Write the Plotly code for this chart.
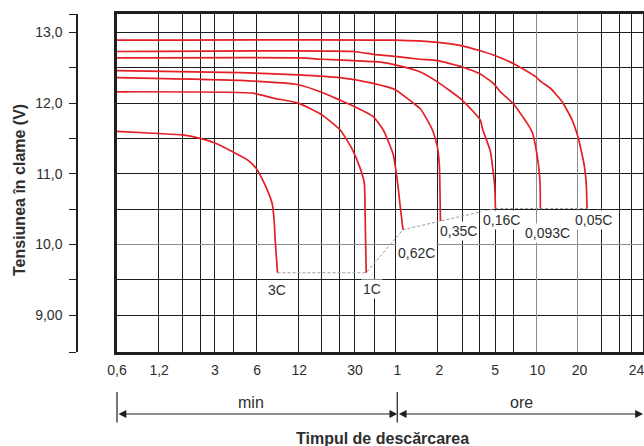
import math
import plotly.graph_objects as go

# ---------------- data (time in minutes, terminal voltage in V) ----------------
rate_labels = ["3C", "1C", "0,62C", "0,35C", "0,16C", "0,093C", "0,05C"]

t_3c = [0.6, 1.18, 1.75, 2.35, 2.96, 4.04, 5.09, 5.90, 6.84, 7.68, 7.93, 8.07, 8.38]
v_3c = [11.60, 11.57, 11.55, 11.50, 11.44, 11.31, 11.20, 11.08, 10.84, 10.58, 10.35, 10.07, 9.60]

t_1c = [0.6, 5.62, 7.81, 11.8, 17.5, 23.5, 28.6, 32.6, 34.9, 35.4, 36.0]
v_1c = [12.16, 12.14, 12.07, 12.00, 11.83, 11.62, 11.35, 11.08, 10.87, 10.40, 9.60]

t_062 = [0.6, 4.54, 11.8, 17.5, 23.5, 29.1, 40.4, 47.7, 56.2, 60.0, 63.0, 65.9]
v_062 = [12.36, 12.32, 12.26, 12.15, 12.04, 11.96, 11.81, 11.62, 11.27, 10.91, 10.54, 10.21]

t_035 = [0.6, 4.54, 11.8, 23.5, 40.4, 58.1, 78.1, 87.6, 98.3, 107, 116, 120, 121, 122]
v_035 = [12.46, 12.43, 12.40, 12.36, 12.28, 12.19, 12.00, 11.92, 11.76, 11.62, 11.38, 11.10, 10.77, 10.33]

t_016 = [0.6, 11.8, 17.5, 29.1, 45.4, 58.1, 87.6, 116, 175, 235, 243, 277, 291, 298, 301]
v_016 = [12.64, 12.64, 12.62, 12.60, 12.58, 12.54, 12.44, 12.30, 12.04, 11.76, 11.64, 11.32, 11.01, 10.80, 10.51]

t_0093 = [0.6, 29.1, 40.4, 58.1, 87.6, 116, 175, 235, 291, 326, 404, 509, 553, 581, 613, 627, 630]
v_0093 = [12.73, 12.73, 12.69, 12.66, 12.62, 12.60, 12.51, 12.41, 12.28, 12.16, 11.99, 11.71, 11.58, 11.40, 11.10, 10.85, 10.51]

t_005 = [0.6, 58.1, 116, 175, 235, 291, 404, 587, 630, 743, 901, 1062, 1165, 1217, 1300, 1340, 1355]
v_005 = [12.89, 12.89, 12.86, 12.81, 12.74, 12.68, 12.56, 12.37, 12.31, 12.21, 12.02, 11.76, 11.53, 11.38, 11.10, 10.85, 10.51]

series_t = [t_3c, t_1c, t_062, t_035, t_016, t_0093, t_005]
series_v = [v_3c, v_1c, v_062, v_035, v_016, v_0093, v_005]

# axis ticks / labels
x_tick_vals = [0.6, 1.2, 3, 6, 12, 30, 60, 120, 300, 600, 1200, 3060]
x_tick_text = ["0,6", "1,2", "3", "6", "12", "30", "1", "2", "5", "10", "20", "24"]
x_grid_black = [1.18, 1.76, 2.37, 2.97, 4.08, 5.95, 11.9, 17.2, 23.1, 29.5, 41.0, 58.5,
                117, 175, 233, 300, 403, 1711, 2304, 2830]
x_grid_gray = [588, 1155]
x_limits = [0.6, 3402]

y_tick_vals = [8.48, 9.0, 9.5, 10.0, 10.5, 11.0, 11.5, 12.0, 12.5, 13.0, 13.26]
y_tick_text = ["", "9,00", "", "10,0", "", "11,0", "", "12,0", "", "13,0", ""]
y_grid_black = [9.0, 9.5, 10.5, 11.0, 11.5, 12.0, 12.5, 13.0]
y_grid_gray = [10.0]
y_limits = [8.48, 13.26]

# ---------------- styling / layout ----------------
W, H = 644, 446
ML, MR, MT, MB = 77, 1, 14, 94
PW, PH = W - ML - MR, H - MT - MB
PLOT_LEFT_PX = 117


def px_x(px):
    return (px - ML) / PW


def px_y(py):
    return (H - MB - py) / PH


RED = "#e41f26"
INK = "#1e1e1e"
TXT = "#2e2e2e"
FONT = "Liberation Sans"
X_RANGE = [math.log10(x_limits[0]), math.log10(x_limits[1])]
DOM = [px_x(PLOT_LEFT_PX), 1]

# label offsets (pixels) relative to the curve end points
label_shift = [(0, -17), (6, -16), (14, -23), (18, -10), (6, -12), (7, -25), (7, -12)]

fig = go.Figure()

# empty traces so that the overlay grid axes are created
fig.add_trace(go.Scatter(x=[], y=[], xaxis="x2", yaxis="y2", hoverinfo="skip", showlegend=False))
fig.add_trace(go.Scatter(x=[], y=[], xaxis="x3", yaxis="y3", hoverinfo="skip", showlegend=False))

end_t = [t[-1] for t in series_t]
end_v = [v[-1] for v in series_v]
fig.add_trace(go.Scatter(x=end_t, y=end_v, mode="lines",
                         line=dict(color="#9a9a9a", width=1, dash="3px,2px"),
                         hoverinfo="skip", showlegend=False))

for t, v in zip(series_t, series_v):
    fig.add_trace(go.Scatter(x=t, y=v, mode="lines",
                             line=dict(color=RED, width=1.7, shape="spline", smoothing=0.5),
                             hoverinfo="skip", showlegend=False))

for lab, t, v, (dx, dy) in zip(rate_labels, end_t, end_v, label_shift):
    fig.add_annotation(x=math.log10(t), y=v, xref="x", yref="y", text=lab,
                       showarrow=False, xshift=dx, yshift=dy,
                       xanchor="center", yanchor="middle",
                       font=dict(size=14, color=TXT, family=FONT),
                       bgcolor="white", borderpad=1)

# unit labels and arrows under the axis
for txt, cx in [("min", 251), ("ore", 521)]:
    fig.add_annotation(x=px_x(cx), y=px_y(402), xref="paper", yref="paper", text=txt,
                       xanchor="center", yanchor="middle", showarrow=False,
                       font=dict(size=16, color=TXT, family=FONT))

arrow_y = px_y(414)
for a, b in [(x_limits[0], 60), (60, x_limits[1])]:
    fig.add_annotation(x=math.log10(b), y=arrow_y, xref="x", yref="paper",
                       ax=math.log10(a), ay=0, axref="x", ayref="pixel",
                       text="", showarrow=True, arrowside="end+start",
                       arrowhead=2, arrowsize=1.3, arrowwidth=1.2, arrowcolor=INK,
                       standoff=0, startstandoff=0)
for xb in [x_limits[0], 60]:
    fig.add_annotation(x=math.log10(xb), y=px_y(392), xref="x", yref="paper",
                       ax=0, ay=32, text="", showarrow=True, arrowhead=0,
                       arrowwidth=1.2, arrowcolor=INK)

# titles
fig.add_annotation(x=px_x(19), y=px_y(190), xref="paper", yref="paper",
                   text="Tensiunea în clame (V)", textangle=-90, showarrow=False,
                   xanchor="center", yanchor="middle",
                   font=dict(size=16, color=TXT, family=FONT, weight="bold"))
fig.add_annotation(x=px_x(382), y=px_y(438), xref="paper", yref="paper",
                   text="Timpul de descărcarea", showarrow=False,
                   xanchor="center", yanchor="middle",
                   font=dict(size=16, color=TXT, family=FONT, weight="bold"))

grid_common = dict(showticklabels=False, ticks="", zeroline=False, automargin=False)

fig.update_layout(
    width=W, height=H,
    margin=dict(l=ML, r=MR, t=MT, b=MB, autoexpand=False),
    paper_bgcolor="white", plot_bgcolor="white",
    font=dict(family=FONT, color=TXT, size=14),
    showlegend=False,
    xaxis=dict(type="log", range=X_RANGE, domain=DOM, anchor="y2",
               tickmode="array", tickvals=x_tick_vals, ticktext=x_tick_text,
               ticks="", ticklabelstandoff=3, tickfont=dict(size=14, color=TXT),
               ticklabeloverflow="allow", automargin=False,
               showgrid=False, zeroline=False,
               showline=True, mirror=True, linewidth=2.6, linecolor=INK),
    xaxis2=dict(type="log", range=X_RANGE, domain=DOM, overlaying="x", anchor="y2",
                tickmode="array", tickvals=x_grid_black,
                showgrid=True, gridcolor=INK, gridwidth=1.3, showline=False, **grid_common),
    xaxis3=dict(type="log", range=X_RANGE, domain=DOM, overlaying="x", anchor="y2",
                tickmode="array", tickvals=x_grid_gray,
                showgrid=True, gridcolor="#8c8c8c", gridwidth=1.2, showline=False, **grid_common),
    yaxis=dict(range=y_limits, anchor="free", position=0, side="left",
               tickmode="array", tickvals=y_tick_vals, ticktext=y_tick_text,
               ticks="outside", ticklen=7, tickwidth=1.3, tickcolor=INK,
               ticklabelstandoff=4, tickfont=dict(size=14, color=TXT),
               automargin=False,
               showline=True, linewidth=1.5, linecolor=INK,
               showgrid=False, zeroline=False),
    yaxis2=dict(range=y_limits, overlaying="y", anchor="x", side="left",
                tickmode="array", tickvals=y_grid_black,
                showgrid=True, gridcolor=INK, gridwidth=1.3,
                showline=True, mirror=True, linewidth=2.6, linecolor=INK, **grid_common),
    yaxis3=dict(range=y_limits, overlaying="y", anchor="x", side="left",
                tickmode="array", tickvals=y_grid_gray,
                showgrid=True, gridcolor="#8c8c8c", gridwidth=1.2, showline=False, **grid_common),
)

fig.write_html("out.html", config={"displayModeBar": False},
               post_script="document.body.style.margin='0';")
